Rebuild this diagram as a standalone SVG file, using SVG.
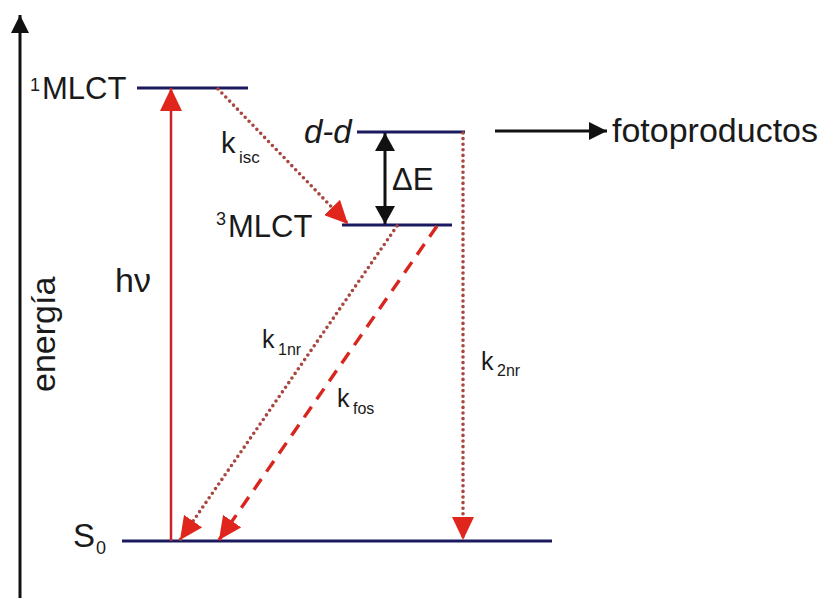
<svg xmlns="http://www.w3.org/2000/svg" width="828" height="598" viewBox="0 0 828 598">
<style>
.lvl{stroke:#1c1a5e;stroke-width:3;fill:none}
.t{font-family:"Liberation Sans",Arial,sans-serif;fill:#1a1a1a}
.blk{stroke:#111;stroke-width:3;fill:none}
.solid{stroke:#c8232a;stroke-width:2.5;fill:none}
.dot{stroke:#a8463f;stroke-width:3.6;stroke-linecap:round;stroke-dasharray:0 5.6;fill:none}
.dash{stroke:#d8261f;stroke-width:3.4;stroke-dasharray:13 9;fill:none}
</style>
<defs>
<marker id="ar" markerUnits="userSpaceOnUse" markerWidth="24" markerHeight="22" viewBox="0 0 24 22" refX="23" refY="11" orient="auto"><path d="M0,0 L23,11 L0,22 z" fill="#e0261c"/></marker>
<marker id="ak" markerUnits="userSpaceOnUse" markerWidth="20" markerHeight="20" viewBox="0 0 20 20" refX="18" refY="10" orient="auto-start-reverse"><path d="M0,0 L18,10 L0,20 z" fill="#111"/></marker>
<marker id="ax" markerUnits="userSpaceOnUse" markerWidth="20" markerHeight="18" viewBox="0 0 20 18" refX="18" refY="9" orient="auto"><path d="M0,0 L18,9 L0,18 z" fill="#111"/></marker>
</defs>
<rect width="828" height="598" fill="#fff"/>

<g id="axis">
<line class="blk" x1="20" y1="598" x2="20" y2="15" marker-end="url(#ax)"/>
<text class="t" font-size="34" transform="translate(55,392) rotate(-90)">energía</text>
</g>

<g id="mlct1">
<line class="lvl" x1="137" y1="88" x2="248" y2="88"/>
<text class="t" font-size="18" x="30" y="91">1</text>
<text class="t" font-size="31" x="42" y="99">MLCT</text>
</g>

<g id="dd">
<line class="lvl" x1="357" y1="132" x2="465" y2="132"/>
<text class="t" font-size="33" font-style="italic" x="304" y="143">d-d</text>
</g>

<g id="mlct3">
<line class="lvl" x1="342" y1="225" x2="452" y2="225"/>
<text class="t" font-size="18" x="216" y="225">3</text>
<text class="t" font-size="31" x="228" y="237">MLCT</text>
</g>

<g id="s0">
<line class="lvl" x1="122" y1="541" x2="552" y2="541"/>
<text class="t" font-size="33" x="73" y="547">S</text>
<text class="t" font-size="18" x="96" y="554">0</text>
</g>

<g id="fotoproductos">
<text class="t" font-size="34" x="612" y="142">fotoproductos</text>
</g>

<g id="connectors">
<line class="solid" x1="171" y1="541" x2="171" y2="88" marker-end="url(#ar)"/>
<line class="dot" x1="218" y1="89" x2="348" y2="224" marker-end="url(#ar)"/>
<line class="blk" x1="385" y1="133" x2="385" y2="224" marker-start="url(#ak)" marker-end="url(#ak)"/>
<line class="blk" x1="495" y1="131" x2="607" y2="131" marker-end="url(#ax)"/>
<line class="dot" x1="397" y1="226" x2="180" y2="540" marker-end="url(#ar)"/>
<line class="dash" x1="437" y1="226" x2="219" y2="540" marker-end="url(#ar)"/>
<line class="dot" x1="463" y1="133" x2="463" y2="540" marker-end="url(#ar)"/>
</g>

<g id="labels">
<text class="t" font-size="34" x="115" y="292">hν</text>
<text class="t" font-size="31" x="392" y="190">ΔE</text>
<text class="t" font-size="29" x="221" y="153">k</text>
<text class="t" font-size="17" x="239" y="163">isc</text>
<text class="t" font-size="25" x="262" y="348">k</text>
<text class="t" font-size="16" x="278" y="355">1nr</text>
<text class="t" font-size="25" x="337" y="407">k</text>
<text class="t" font-size="16" x="353" y="414">fos</text>
<text class="t" font-size="25" x="481" y="370">k</text>
<text class="t" font-size="16" x="497" y="376">2nr</text>
</g>
</svg>
